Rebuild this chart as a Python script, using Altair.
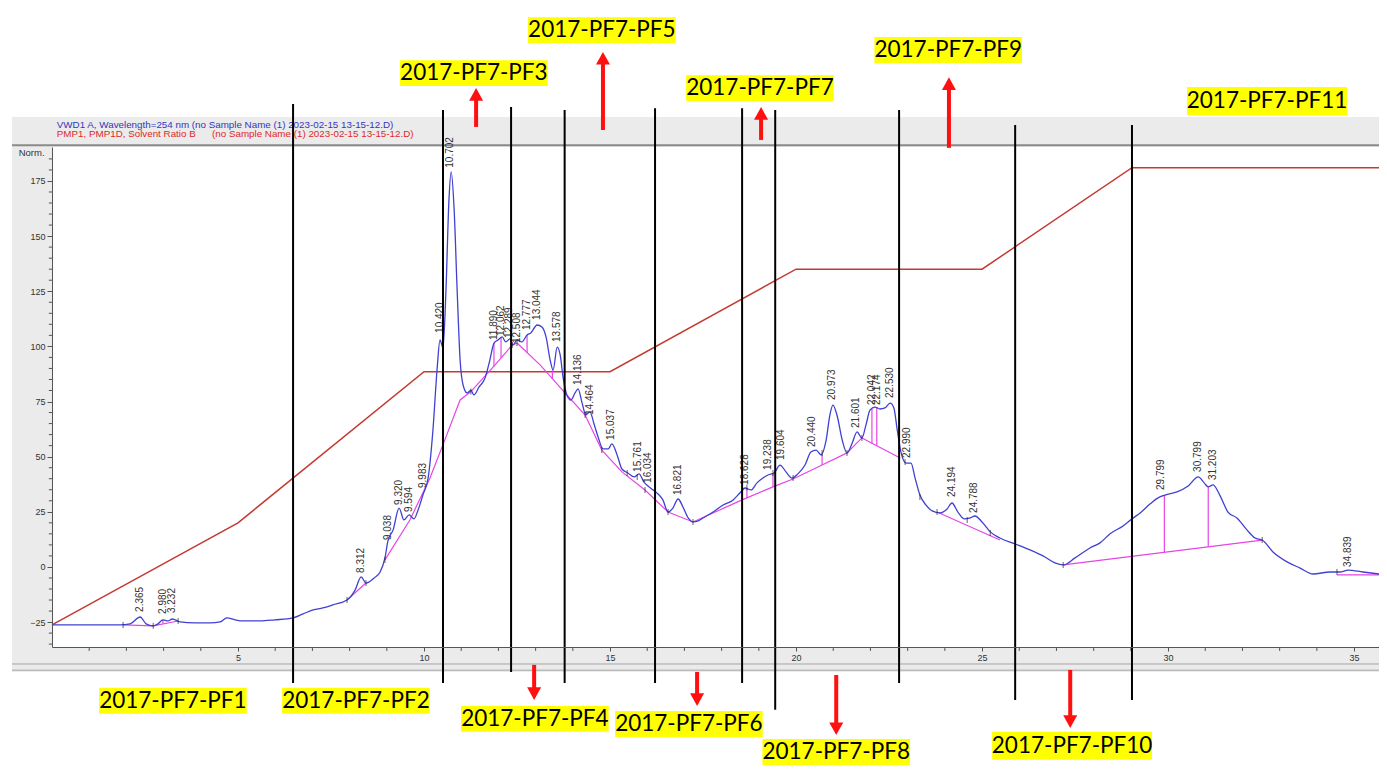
import altair as alt
import pandas as pd

# ---------------- data ----------------
trace_t = [0.00, 1.02, 1.83, 2.10, 2.37, 2.53, 2.72, 2.85, 2.98, 3.12,
           3.23, 3.44, 3.84, 4.25, 4.52, 4.70, 4.92, 5.13, 5.59, 5.99,
           6.48, 6.75, 7.02, 7.28, 7.55, 7.93, 8.15, 8.31, 8.44, 8.66,
           8.82, 8.95, 9.03, 9.17, 9.33, 9.46, 9.60, 9.73, 9.84, 9.97,
           10.11, 10.24, 10.35, 10.43, 10.51, 10.59, 10.67, 10.73, 10.81, 10.89,
           10.97, 11.05, 11.16, 11.26, 11.34, 11.48, 11.64, 11.77, 11.88, 11.99,
           12.10, 12.20, 12.31, 12.39, 12.50, 12.63, 12.77, 12.87, 13.04, 13.17,
           13.28, 13.39, 13.47, 13.58, 13.66, 13.74, 13.84, 13.95, 14.06, 14.14,
           14.25, 14.35, 14.46, 14.57, 14.68, 14.81, 14.95, 15.05, 15.19, 15.32,
           15.48, 15.65, 15.78, 15.91, 16.02, 16.16, 16.29, 16.42, 16.56, 16.69,
           16.83, 16.96, 17.10, 17.23, 17.37, 17.50, 17.77, 18.04, 18.31, 18.49,
           18.63, 18.79, 18.95, 19.11, 19.25, 19.41, 19.57, 19.73, 19.89, 20.05,
           20.24, 20.40, 20.54, 20.67, 20.81, 20.91, 20.99, 21.10, 21.24, 21.37,
           21.51, 21.64, 21.77, 21.88, 21.99, 22.12, 22.26, 22.39, 22.53, 22.63,
           22.72, 22.82, 22.96, 23.09, 23.20, 23.33, 23.49, 23.66, 23.87, 24.06,
           24.19, 24.35, 24.52, 24.68, 24.81, 25.00, 25.22, 25.48, 25.89, 26.29,
           26.69, 26.96, 27.18, 27.50, 27.90, 28.17, 28.44, 28.79, 29.03, 29.25,
           29.52, 29.73, 29.92, 30.24, 30.54, 30.81, 30.97, 31.08, 31.21, 31.40,
           31.61, 31.85, 32.12, 32.34, 32.53, 32.82, 33.20, 33.55, 33.90, 34.35,
           34.62, 34.84, 35.24, 35.67]
trace_v = [-26.3, -26.3, -26.3, -25.8, -22.7, -25.8, -26.7, -25.8, -24.0, -24.5,
           -23.6, -24.9, -25.4, -25.4, -24.9, -23.1, -24.0, -24.5, -24.5, -24.0,
           -23.1, -21.3, -19.5, -18.6, -17.2, -15.0, -10.4, -4.5, -7.3, -5.0,
           -2.3, 4.1, 11.8, 16.8, 26.7, 21.3, 23.6, 21.8, 25.8, 32.6,
           40.3, 62.1, 89.3, 102.9, 99.3, 125.6, 166.4, 179.1, 161.8, 125.6,
           93.8, 82.5, 78.9, 80.2, 78.0, 81.6, 85.7, 93.8, 101.5, 102.9,
           104.3, 102.0, 103.4, 100.6, 102.9, 102.0, 105.2, 106.1, 109.7, 108.8,
           104.3, 93.8, 89.3, 99.7, 96.1, 85.7, 78.0, 75.7, 78.9, 80.7,
           74.3, 68.9, 70.3, 64.8, 58.9, 53.5, 53.5, 55.8, 50.8, 44.4,
           42.6, 40.8, 42.2, 38.5, 36.7, 34.9, 33.1, 30.4, 24.9, 26.7,
           30.8, 27.2, 22.2, 20.4, 20.9, 22.2, 24.9, 28.1, 30.4, 33.5,
           35.8, 34.9, 38.1, 40.3, 41.7, 42.6, 46.2, 43.1, 40.3, 42.2,
           46.2, 52.1, 53.0, 50.8, 57.6, 68.9, 73.4, 68.9, 57.6, 51.7,
           56.2, 61.2, 58.5, 64.4, 71.2, 72.5, 71.6, 72.1, 74.3, 72.1,
           62.1, 52.1, 47.1, 47.1, 40.3, 32.6, 28.1, 25.4, 24.5, 26.3,
           29.0, 24.9, 21.8, 22.2, 23.1, 20.4, 15.9, 13.1, 10.4, 7.7,
           4.5, 1.8, 0.9, 4.1, 8.6, 10.9, 15.0, 18.6, 21.8, 24.5,
           28.6, 31.3, 32.6, 34.0, 36.7, 40.8, 38.1, 36.3, 37.2, 32.2,
           24.9, 22.2, 16.8, 13.1, 12.2, 6.8, 2.3, -0.5, -3.2, -2.3,
           -2.3, -1.4, -2.3, -3.2]

# solvent ratio B (red) trace
gradient_t = [0, 5, 10, 15, 20, 25, 29.03, 35.67]
gradient_v = [-26.3, 20.0, 88.5, 88.5, 135.0, 135.0, 181.0, 181.0]

# integration baselines (magenta)
baseline_seg = ["A", "A", "B", "B", "C", "C"] + ["D"] * 24 + ["E", "E", "F", "F", "G", "G"]
baseline_t = [1.91, 2.72, 2.72, 3.39, 7.93, 8.44,
              8.95, 9.62, 10.16, 10.56, 10.97, 11.26, 11.91, 12.37, 12.50, 13.12,
              13.79, 14.33, 14.78, 15.32, 15.94, 16.56, 17.23, 18.55, 19.38, 19.92,
              20.70, 21.37, 21.77, 22.80,
              23.79, 25.48, 27.18, 32.53, 34.54, 35.67]
baseline_v = [-26.3, -26.7, -26.7, -24.5, -15.0, -7.3,
              3.2, 21.3, 40.3, 57.6, 75.7, 79.5, 91.6, 100.6, 101.5, 91.6,
              78.9, 68.9, 53.0, 43.1, 34.9, 24.9, 20.4, 30.4, 36.3, 39.9,
              46.2, 51.7, 58.5, 49.4,
              24.9, 12.2, 0.9, 12.2, -3.6, -3.6]

# drop lines (magenta verticals)
drop_t = [2.98, 11.88, 12.07, 12.77, 13.45, 18.68, 19.38, 20.70, 22.04, 22.17, 29.90, 31.08]
drop_top = [-24.0, 101.5, 104.3, 105.2, 89.3, 35.8, 42.6, 50.8, 71.6, 72.5, 32.6, 36.3]
drop_bot = [-25.8, 91.0, 94.7, 97.2, 85.3, 31.3, 36.3, 46.2, 56.1, 55.0, 6.6, 9.1]

# peak boundary ticks (black)
tick_t = [1.91, 2.72, 3.39, 7.93, 8.44, 8.95, 11.26, 12.37, 12.50, 13.79, 14.33, 14.78,
          15.46, 15.73, 15.94, 16.56, 17.23, 18.68, 19.38, 19.92, 20.70, 21.37, 21.77,
          22.93, 23.33, 23.79, 24.60, 25.22, 27.18, 32.53, 34.54]
tick_v = [-26.3, -26.7, -24.5, -15.0, -7.3, 3.2, 79.5, 100.6, 101.5, 78.9, 68.9, 53.0,
          42.6, 40.8, 34.9, 24.9, 20.4, 36.0, 42.6, 40.3, 51.7, 51.7, 58.5,
          47.6, 31.7, 24.9, 21.3, 15.4, 0.9, 12.2, -2.3]

# peak retention-time labels
peak_t = [2.365, 2.980, 3.232, 8.312, 9.038, 9.320, 9.594, 9.983, 10.420, 10.702,
          11.890, 12.062, 12.289, 12.508, 12.777, 13.044, 13.578, 14.136, 14.464, 15.037,
          15.761, 16.034, 16.821, 18.628, 19.238, 19.604, 20.440, 20.973, 21.601, 22.042,
          22.174, 22.530, 22.990, 24.194, 24.788, 29.799, 30.799, 31.203, 34.839]
peak_label_v = [-20.4, -21.3, -20.9, -2.7, 12.2, 28.1, 24.9, 35.8, 106.1, 181.0,
                102.9, 104.7, 103.8, 101.5, 107.4, 112.0, 102.0, 82.5, 68.9, 57.6,
                43.1, 38.1, 32.6, 37.2, 44.0, 48.5, 54.4, 75.7, 63.0, 73.4,
                73.4, 76.6, 49.4, 31.7, 24.5, 34.9, 43.1, 39.4, 0.0]

# fraction cut lines (black)
frac_t = [6.48, 10.51, 12.34, 13.78, 16.21, 18.55, 19.44, 22.77, 25.89, 29.03]
frac_top = [209.9, 207.2, 208.5, 207.2, 208.0, 208.0, 207.2, 207.2, 200.4, 200.4]
frac_bottom = [-52.6, -52.6, -47.6, -52.6, -52.6, -52.6, -64.8, -52.6, -60.3, -60.3]

# fraction names
frac_names = ["2017-PF7-PF1", "2017-PF7-PF2", "2017-PF7-PF3", "2017-PF7-PF4", "2017-PF7-PF5",
              "2017-PF7-PF6", "2017-PF7-PF7", "2017-PF7-PF8", "2017-PF7-PF9", "2017-PF7-PF10",
              "2017-PF7-PF11"]
frac_label_t = [3.25, 8.17, 11.34, 12.98, 14.78, 17.12, 19.03, 21.08, 24.09, 27.42, 32.66]
frac_label_v = [-60.7, -60.7, 223.9, -68.9, 243.4, -71.2, 217.1, -83.9, 234.4, -81.1, 211.2]

# red arrows
arrow_t = [11.40, 14.81, 19.06, 24.11, 12.96, 17.34, 21.08, 27.37]
arrow_tail = [199.5, 198.1, 193.6, 190.0, -44.4, -47.6, -49.0, -46.7]
arrow_tip = [217.1, 233.5, 208.5, 222.0, -60.3, -63.0, -76.2, -73.0]

# axis ticks
x_major = [5, 10, 15, 20, 25, 30, 35]
x_minor = [m for m in range(1, 36) if m % 5 != 0]
y_major = [-25, 0, 25, 50, 75, 100, 125, 150, 175]
y_minor = [m for m in range(-35, 190, 5) if m % 25 != 0]

header_lines = ["VWD1 A, Wavelength=254 nm (no Sample Name (1) 2023-02-15 13-15-12.D)",
                "PMP1, PMP1D, Solvent Ratio B" + "\u00a0" * 6 + "(no Sample Name (1) 2023-02-15 13-15-12.D)"]
header_colors = ["#3535c0", "#e02828"]

# ---------------- layout constants ----------------
X_MIN, X_MAX = 0.0, 35.67
Y_MIN, Y_MAX = -36.3, 190.4
PANEL_LEFT = -1.075
PANEL_TOP, PANEL_BOTTOM = 204.0, -47.6
HEADER_LINE_V = 191.2
STRIP_LINES_V = [-44.0, -46.8]
HEADER_TEXT_T = 0.13
HEADER_TEXT_V = [200.6, 196.1]
HEAD_UNITS = 5.0
Y_MINOR_TICK_LEN = 0.085   # in minutes (~3px)
X_MINOR_TICK_LEN = 1.8     # in Norm units (~4px)

xs = alt.Scale(domain=[X_MIN, X_MAX], nice=False, zero=False)
ys = alt.Scale(domain=[Y_MIN, Y_MAX], nice=False, zero=False)

AX_FONT = "Liberation Sans"

x_axis = alt.Axis(values=x_major, tickSize=4, tickColor="#555555", domainColor="#555555",
                  domainWidth=1, labelFont=AX_FONT, labelFontSize=9, labelColor="#333333",
                  labelPadding=2, labelFlush=False, grid=False, title=None, zindex=1)
y_axis = alt.Axis(values=y_major, tickSize=5, tickColor="#555555", domainColor="#555555",
                  domainWidth=1, labelFont=AX_FONT, labelFontSize=9, labelColor="#333333",
                  labelPadding=2, grid=False, title=None, zindex=1)

# ---------------- layers ----------------
panel_df = pd.DataFrame({"x": [PANEL_LEFT], "x2": [X_MAX], "y": [PANEL_BOTTOM], "y2": [PANEL_TOP]})
panel = alt.Chart(panel_df).mark_rect(color="#ebebeb").encode(
    x=alt.X("x:Q", scale=xs, axis=x_axis), x2="x2:Q",
    y=alt.Y("y:Q", scale=ys, axis=y_axis), y2="y2:Q")

plot_df = pd.DataFrame({"x": [X_MIN], "x2": [X_MAX], "y": [Y_MIN], "y2": [Y_MAX]})
plot_bg = alt.Chart(plot_df).mark_rect(color="white").encode(
    x=alt.X("x:Q", scale=xs), x2="x2:Q", y=alt.Y("y:Q", scale=ys), y2="y2:Q")

hline_df = pd.DataFrame({"x": [PANEL_LEFT] * 3, "x2": [X_MAX] * 3,
                         "y": [HEADER_LINE_V] + STRIP_LINES_V,
                         "w": [2.0, 1.0, 1.0], "c": ["#8a8a8a", "#a5a5a5", "#a5a5a5"]})
hlines = alt.Chart(hline_df).mark_rule().encode(
    x=alt.X("x:Q", scale=xs), x2="x2:Q", y=alt.Y("y:Q", scale=ys),
    strokeWidth=alt.StrokeWidth("w:Q", scale=None), color=alt.Color("c:N", scale=None))

xminor_df = pd.DataFrame({"t": x_minor, "y": [Y_MIN] * len(x_minor),
                          "y2": [Y_MIN - X_MINOR_TICK_LEN] * len(x_minor)})
xminor = alt.Chart(xminor_df).mark_rule(color="#555555", strokeWidth=1).encode(
    x=alt.X("t:Q", scale=xs), y=alt.Y("y:Q", scale=ys), y2="y2:Q")
yminor_df = pd.DataFrame({"v": y_minor, "x": [X_MIN] * len(y_minor),
                          "x2": [X_MIN - Y_MINOR_TICK_LEN] * len(y_minor)})
yminor = alt.Chart(yminor_df).mark_rule(color="#555555", strokeWidth=1).encode(
    y=alt.Y("v:Q", scale=ys), x=alt.X("x:Q", scale=xs), x2="x2:Q")

header_df = pd.DataFrame({"t": [HEADER_TEXT_T] * 2, "v": HEADER_TEXT_V,
                          "txt": header_lines, "c": header_colors})
header = alt.Chart(header_df).mark_text(align="left", baseline="middle", font=AX_FONT,
                                        fontSize=9.8).encode(
    x=alt.X("t:Q", scale=xs), y=alt.Y("v:Q", scale=ys), text="txt:N",
    color=alt.Color("c:N", scale=None))

norm_df = pd.DataFrame({"t": [-0.2], "v": [187.8], "txt": ["Norm."]})
norm = alt.Chart(norm_df).mark_text(align="right", baseline="middle", font=AX_FONT,
                                    fontSize=9.5, color="#333333").encode(
    x=alt.X("t:Q", scale=xs), y=alt.Y("v:Q", scale=ys), text="txt:N")

grad_df = pd.DataFrame({"t": gradient_t, "v": gradient_v})
grad = alt.Chart(grad_df).mark_line(color="#c43a32", strokeWidth=1.5).encode(
    x=alt.X("t:Q", scale=xs), y=alt.Y("v:Q", scale=ys))

base_df = pd.DataFrame({"seg": baseline_seg, "t": baseline_t, "v": baseline_v,
                        "i": list(range(len(baseline_t)))})
base = alt.Chart(base_df).mark_line(color="#e645e6", strokeWidth=1.2).encode(
    x=alt.X("t:Q", scale=xs), y=alt.Y("v:Q", scale=ys), detail="seg:N", order="i:Q")

drop_df = pd.DataFrame({"t": drop_t, "top": drop_top, "bot": drop_bot})
drops = alt.Chart(drop_df).mark_rule(color="#e645e6", strokeWidth=1.2).encode(
    x=alt.X("t:Q", scale=xs), y=alt.Y("top:Q", scale=ys), y2="bot:Q")

trace_df = pd.DataFrame({"t": trace_t, "v": trace_v})
trace = alt.Chart(trace_df).mark_line(color="#4040d2", strokeWidth=1.3, interpolate="monotone").encode(
    x=alt.X("t:Q", scale=xs), y=alt.Y("v:Q", scale=ys))

tick_df = pd.DataFrame({"t": tick_t, "v": tick_v})
ticks = alt.Chart(tick_df).mark_tick(orient="vertical", size=6, thickness=1, color="#222222").encode(
    x=alt.X("t:Q", scale=xs), y=alt.Y("v:Q", scale=ys))

peak_df = pd.DataFrame({"t": peak_t, "v": peak_label_v, "txt": [f"{p:.3f}" for p in peak_t]})
peaks = alt.Chart(peak_df).mark_text(angle=270, align="left", baseline="middle", font=AX_FONT,
                                     fontSize=10, color="#333333").encode(
    x=alt.X("t:Q", scale=xs), y=alt.Y("v:Q", scale=ys), text="txt:N")

frac_df = pd.DataFrame({"t": frac_t, "top": frac_top, "bot": frac_bottom})
fracs = alt.Chart(frac_df).mark_rule(color="black", strokeWidth=2).encode(
    x=alt.X("t:Q", scale=xs), y=alt.Y("top:Q", scale=ys), y2="bot:Q")

BOX_PATH = "M-1,-0.1757L1,-0.1757L1,0.1757L-1,0.1757Z"
BOX_PX_PER_CHAR = 12.3
flab_df = pd.DataFrame({"t": frac_label_t, "v": frac_label_v, "txt": frac_names,
                        "sz": [(BOX_PX_PER_CHAR * len(n)) ** 2 for n in frac_names]})
boxes = alt.Chart(flab_df).mark_point(shape=BOX_PATH, filled=True, color="#ffff00",
                                      opacity=1, strokeWidth=0).encode(
    x=alt.X("t:Q", scale=xs), y=alt.Y("v:Q", scale=ys), size=alt.Size("sz:Q", scale=None))
flabels = alt.Chart(flab_df).mark_text(font="Lato", fontSize=22.5, color="black",
                                       align="center", baseline="middle").encode(
    x=alt.X("t:Q", scale=xs), y=alt.Y("v:Q", scale=ys), text="txt:N")

arrow_df = pd.DataFrame({"t": arrow_t, "tail": arrow_tail, "tip": arrow_tip})
arrow_df["up"] = arrow_df["tip"] > arrow_df["tail"]
arrow_df["shaft_end"] = [tp - HEAD_UNITS if u else tp + HEAD_UNITS
                         for tp, u in zip(arrow_df["tip"], arrow_df["up"])]
shafts = alt.Chart(arrow_df).mark_rule(color="#ff1010", strokeWidth=4, strokeCap="butt").encode(
    x=alt.X("t:Q", scale=xs), y=alt.Y("tail:Q", scale=ys), y2="shaft_end:Q")
heads_up = alt.Chart(arrow_df[arrow_df["up"]]).mark_point(
    shape="M0,0L0.5,0.9L-0.5,0.9Z", size=784, filled=True, color="#ff1010", opacity=1,
    strokeWidth=0).encode(x=alt.X("t:Q", scale=xs), y=alt.Y("tip:Q", scale=ys))
heads_down = alt.Chart(arrow_df[~arrow_df["up"]]).mark_point(
    shape="M0,0L0.5,-0.9L-0.5,-0.9Z", size=784, filled=True, color="#ff1010", opacity=1,
    strokeWidth=0).encode(x=alt.X("t:Q", scale=xs), y=alt.Y("tip:Q", scale=ys))

chart = alt.layer(panel, plot_bg, hlines, xminor, yminor, header, norm, grad, base, drops,
                  trace, ticks, peaks, fracs, boxes, flabels, shafts, heads_up, heads_down).properties(
    width=1327, height=500,
    autosize=alt.AutoSizeParams(type="none"),
    padding={"left": 44, "top": 139, "right": 0, "bottom": 128},
    background="white",
).configure_view(strokeWidth=0)

chart.save("out.html", embed_options={"renderer": "svg", "actions": False})
